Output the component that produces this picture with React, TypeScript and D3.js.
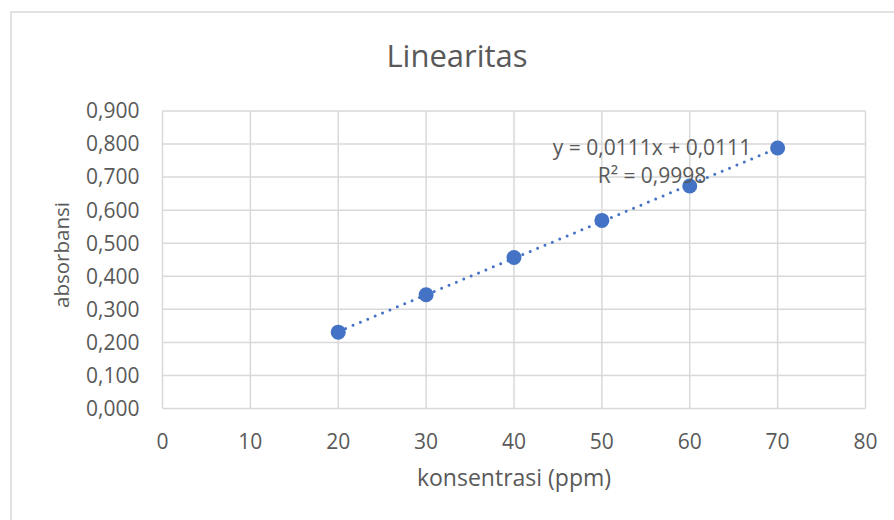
import React, { useEffect, useRef } from "react";
import * as d3 from "d3";

// konsentrasi (ppm) vs absorbansi
const konsentrasi = [20, 30, 40, 50, 60, 70];
const absorbansi = [0.231, 0.344, 0.457, 0.569, 0.673, 0.788];
const xTicks = [0, 10, 20, 30, 40, 50, 60, 70, 80];
const yTicks = [0, 0.1, 0.2, 0.3, 0.4, 0.5, 0.6, 0.7, 0.8, 0.9];
const equationLines = ["y = 0,0111x + 0,0111", "R² = 0,9998"];

const FONT = "'Open Sans', Lato, sans-serif";
const TEXT = "#595959";
const GRID = "#d9d9d9";
const BLUE = "#4472C4";

export default function App() {
  const ref = useRef<SVGSVGElement | null>(null);

  useEffect(() => {
    const W = 894,
      H = 520;
    const plot = { left: 162.5, right: 865.5, top: 111, bottom: 408.5 };

    const svg = d3.select(ref.current);
    svg.selectAll("*").remove();
    svg.attr("width", W).attr("height", H);

    svg.append("rect").attr("width", W).attr("height", H).attr("fill", "#fff");

    // chart border (runs off the right and bottom edges)
    svg
      .append("rect")
      .attr("x", 11)
      .attr("y", 12)
      .attr("width", 900)
      .attr("height", 540)
      .attr("fill", "none")
      .attr("stroke", GRID)
      .attr("stroke-width", 1.5);

    const x = d3.scaleLinear().domain([0, 80]).range([plot.left, plot.right]);
    const y = d3.scaleLinear().domain([0, 0.9]).range([plot.bottom, plot.top]);

    const g = svg.append("g");

    // grid
    g.selectAll(".vgrid")
      .data(xTicks)
      .join("line")
      .attr("x1", (d) => x(d))
      .attr("x2", (d) => x(d))
      .attr("y1", plot.top)
      .attr("y2", plot.bottom)
      .attr("stroke", GRID)
      .attr("stroke-width", 1.5);

    g.selectAll(".hgrid")
      .data(yTicks)
      .join("line")
      .attr("x1", plot.left)
      .attr("x2", plot.right)
      .attr("y1", (d) => y(d))
      .attr("y2", (d) => y(d))
      .attr("stroke", GRID)
      .attr("stroke-width", 1.5);

    // tick labels
    const fmt = (v: number) => d3.format(".3f")(v).replace(".", ",");
    g.selectAll(".ylab")
      .data(yTicks)
      .join("text")
      .attr("x", plot.left - 23)
      .attr("y", (d) => y(d))
      .attr("dy", "0.35em")
      .attr("text-anchor", "end")
      .attr("font-family", FONT)
      .attr("font-size", 21)
      .attr("fill", TEXT)
      .text((d) => fmt(d));

    g.selectAll(".xlab")
      .data(xTicks)
      .join("text")
      .attr("x", (d) => x(d))
      .attr("y", plot.bottom + 33)
      .attr("dy", "0.35em")
      .attr("text-anchor", "middle")
      .attr("font-family", FONT)
      .attr("font-size", 21)
      .attr("fill", TEXT)
      .text((d) => d);

    // axis titles
    svg
      .append("text")
      .attr("x", (plot.left + plot.right) / 2)
      .attr("y", 478)
      .attr("dy", "0.35em")
      .attr("text-anchor", "middle")
      .attr("font-family", FONT)
      .attr("font-size", 23)
      .attr("fill", TEXT)
      .text("konsentrasi (ppm)");

    svg
      .append("text")
      .attr("transform", `translate(62, 255) rotate(-90)`)
      .attr("dy", "0.35em")
      .attr("text-anchor", "middle")
      .attr("font-family", FONT)
      .attr("font-size", 20.5)
      .attr("fill", TEXT)
      .text("absorbansi");

    // chart title
    svg
      .append("text")
      .attr("x", 457)
      .attr("y", 67)
      .attr("text-anchor", "middle")
      .attr("font-family", FONT)
      .attr("font-size", 31)
      .attr("fill", TEXT)
      .text("Linearitas");

    // linear trendline (least squares)
    const mx = d3.mean(konsentrasi) as number;
    const my = d3.mean(absorbansi) as number;
    let sxy = 0,
      sxx = 0;
    konsentrasi.forEach((k, i) => {
      sxy += (k - mx) * (absorbansi[i] - my);
      sxx += (k - mx) * (k - mx);
    });
    const slope = sxy / sxx;
    const intercept = my - slope * mx;
    const x0 = d3.min(konsentrasi) as number;
    const x1 = d3.max(konsentrasi) as number;

    g.append("line")
      .attr("x1", x(x0))
      .attr("y1", y(slope * x0 + intercept))
      .attr("x2", x(x1))
      .attr("y2", y(slope * x1 + intercept))
      .attr("stroke", BLUE)
      .attr("stroke-width", 3)
      .attr("stroke-linecap", "round")
      .attr("stroke-dasharray", "0 8");

    // points
    g.selectAll(".pt")
      .data(konsentrasi)
      .join("circle")
      .attr("cx", (d) => x(d))
      .attr("cy", (d, i) => y(absorbansi[i]))
      .attr("r", 7.5)
      .attr("fill", BLUE);

    // equation label
    svg
      .selectAll(".eq")
      .data(equationLines)
      .join("text")
      .attr("x", 652)
      .attr("y", (d, i) => 155 + i * 28)
      .attr("text-anchor", "middle")
      .attr("font-family", FONT)
      .attr("font-size", 21)
      .attr("fill", TEXT)
      .text((d) => d);
  }, []);

  return (
    <svg
      ref={ref}
      style={{ position: "absolute", left: 0, top: 0, display: "block" }}
    ></svg>
  );
}
